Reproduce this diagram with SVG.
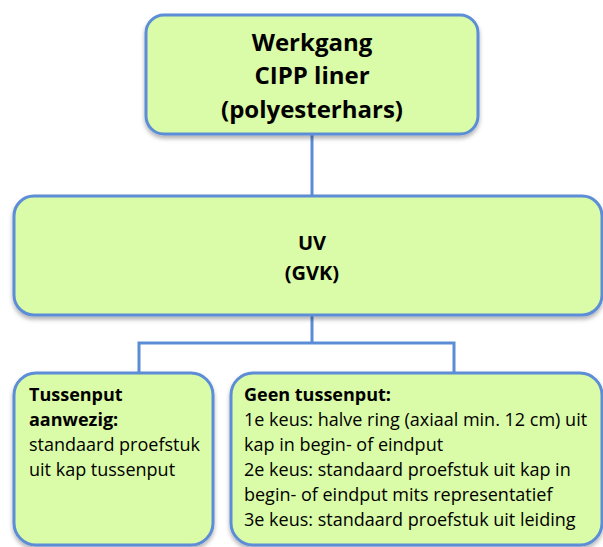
<svg xmlns="http://www.w3.org/2000/svg" width="603" height="547" viewBox="0 0 603 547">
<style>
.box{fill:#dafba7;stroke:#5b8dd6;stroke-width:3;filter:url(#sh)}
.con{fill:none;stroke:#5b8dd6;stroke-width:3}
text{font-family:"Open Sans","Noto Sans",sans-serif;fill:#000}
.t1{font-size:24px;font-weight:bold;text-anchor:middle}
.t2{font-size:20px;font-weight:bold;text-anchor:middle}
.t3{font-size:18px}
.b{font-weight:bold}
</style>
<defs>
<filter id="sh" x="-10%" y="-10%" width="120%" height="130%">
<feDropShadow dx="0" dy="3" stdDeviation="2" flood-color="#000" flood-opacity="0.3"/>
</filter>
</defs>
<g id="connectors">
<line class="con" x1="312" y1="134" x2="312" y2="197"/>
<polyline class="con" points="139,373 139,343 454,343 454,373"/>
<line class="con" x1="312" y1="315" x2="312" y2="343"/>
</g>
<g id="top">
<rect class="box" x="146" y="15" width="332" height="119" rx="18"/>
<text class="t1" x="312" y="51">Werkgang</text>
<text class="t1" x="312" y="84">CIPP liner</text>
<text class="t1" x="312" y="118">(polyesterhars)</text>
</g>
<g id="uv">
<rect class="box" x="14" y="196" width="588" height="119" rx="20"/>
<text class="t2" x="312" y="250">UV</text>
<text class="t2" x="312" y="280">(GVK)</text>
</g>
<g id="left">
<rect class="box" x="14" y="373" width="199" height="172" rx="22"/>
<text class="t3 b" x="29" y="401">Tussenput</text>
<text class="t3 b" x="29" y="426">aanwezig:</text>
<text class="t3" x="29" y="451">standaard proefstuk</text>
<text class="t3" x="29" y="476">uit kap tussenput</text>
</g>
<g id="right">
<rect class="box" x="231" y="373" width="371" height="172" rx="22"/>
<text class="t3 b" x="244" y="401">Geen tussenput:</text>
<text class="t3" x="244" y="426">1e keus: halve ring (axiaal min. 12 cm) uit</text>
<text class="t3" x="244" y="451">kap in begin- of eindput</text>
<text class="t3" x="244" y="476">2e keus: standaard proefstuk uit kap in</text>
<text class="t3" x="244" y="501">begin- of eindput mits representatief</text>
<text class="t3" x="244" y="526">3e keus: standaard proefstuk uit leiding</text>
</g>
</svg>
